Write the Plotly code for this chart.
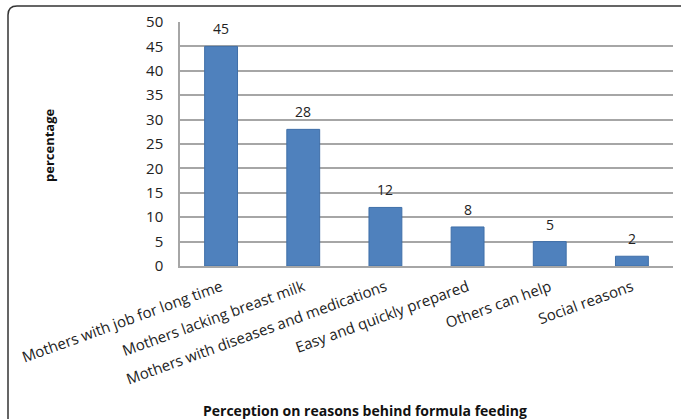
import plotly.graph_objects as go

categories = ["Mothers with job for long time", "Mothers lacking breast milk",
              "Mothers with diseases and medications", "Easy and quickly prepared",
              "Others can help", "Social reasons"]
values = [45, 28, 12, 8, 5, 2]
y_ticks = [0, 5, 10, 15, 20, 25, 30, 35, 40, 45, 50]

FONT = "Open Sans"
fig = go.Figure(go.Bar(
    x=categories, y=values,
    marker=dict(color="#4F81BD", line=dict(color="#3F6FA8", width=1)),
    width=0.4, hoverinfo="skip",
))

L, R, T, B = 180, 8, 22, 153
W, H = 681, 419
pw, ph = W - L - R, H - T - B

def px(x):
    return (x - L) / pw

def py(y):
    return (H - B - y) / ph

x0, x1 = px(8), px(690)
y1, y0 = py(6), py(430)
rx, ry = 9 / pw, 9 / ph
path = (f"M {x0},{y0} L {x0},{y1 - ry} Q {x0},{y1} {x0 + rx},{y1} L {x1},{y1}")

annotations = [
    dict(x=c, y=v, xref="x", yref="y", text=str(v), showarrow=False,
         yanchor="bottom", yshift=6, font=dict(family=FONT, size=14, color="#222"))
    for c, v in zip(categories, values)
]
annotations += [
    dict(text="<b>Perception on reasons behind formula feeding</b>", xref="paper", yref="paper",
         x=px(365), y=py(410), showarrow=False, font=dict(family=FONT, size=14, color="#111"),
         xanchor="center", yanchor="middle"),
    dict(text="<b>percentage</b>", xref="paper", yref="paper", textangle=-90,
         x=px(49), y=py(145), showarrow=False, font=dict(family=FONT, size=13, color="#111"),
         xanchor="center", yanchor="middle"),
]

fig.update_layout(
    width=W, height=H,
    margin=dict(l=L, r=R, t=T, b=B, autoexpand=False),
    paper_bgcolor="white", plot_bgcolor="white",
    showlegend=False,
    font=dict(family=FONT, color="#222"),
    xaxis=dict(tickangle=-20, tickfont=dict(family=FONT, size=15, color="#222"),
               showline=True, linecolor="#A6A6A6", linewidth=1.5,
               showgrid=False, ticks="", automargin=False, ticklabelstandoff=5),
    yaxis=dict(range=[0, 50], tickvals=y_ticks, tickfont=dict(family=FONT, size=15, color="#222"),
               showline=True, linecolor="#A6A6A6", linewidth=1.5,
               showgrid=True, gridcolor="#A6A6A6", gridwidth=1.5,
               ticks="", zeroline=False, ticklabelstandoff=12, automargin=False),
    shapes=[dict(type="path", path=path, xref="paper", yref="paper",
                 line=dict(color="#333", width=1.5))],
    annotations=annotations,
)
fig.write_html("out.html", config={"displayModeBar": False},
               post_script="document.body.style.margin='0';document.body.style.overflow='hidden';")
